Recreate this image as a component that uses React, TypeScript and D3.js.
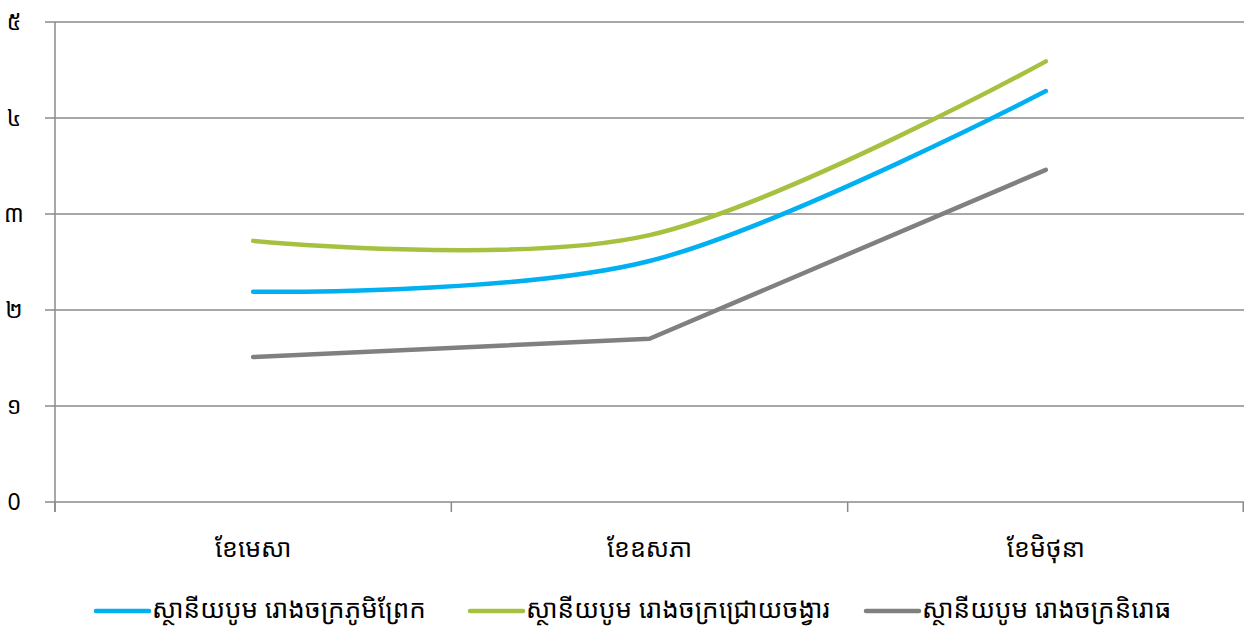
import React from "react";
import * as d3 from "d3";

const categories = ["ខែមេសា", "ខែឧសភា", "ខែមិថុនា"];
const seriesNames = [
  "ស្ថានីយបូម រោងចក្រភូមិព្រែក",
  "ស្ថានីយបូម រោងចក្រជ្រោយចង្វារ",
  "ស្ថានីយបូម រោងចក្រនិរោធ",
];
const blueValues = [2.19, 2.51, 4.28];
const greenValues = [2.72, 2.78, 4.59];
const grayValues = [1.51, 1.7, 3.46];
const yTicks = [0, 1, 2, 3, 4, 5];
const yTickLabels = ["0", "១", "២", "៣", "៤", "៥"];
const colors = ["#00B0F0", "#A6C13F", "#808080"];
const smooth = [true, true, false];

const W = 1244;
const H = 631;
const FONT = "'Noto Sans Khmer', 'Khmer OS', 'Khmer OS System', 'Noto Sans', sans-serif";

export default function App() {
  const left = 55, right = 1244, top = 22, bottom = 502;
  const x = d3.scaleBand<string>().domain(categories).range([left, right]).padding(0);
  const y = d3.scaleLinear().domain([0, 5]).range([bottom, top]);
  const series = [blueValues, greenValues, grayValues];
  const cx = (c: string) => (x(c) as number) + x.bandwidth() / 2;

  const legendX = [96, 470, 866];

  return (
    <svg width={W} height={H} style={{ position: "absolute", left: 0, top: 0, background: "#fff" }}>
      {yTicks.map((t) => (
        <line key={"g" + t} x1={45} x2={right} y1={y(t)} y2={y(t)} stroke="#8a8a8a" strokeWidth={1.5} />
      ))}
      <line x1={left} x2={left} y1={top} y2={bottom + 10} stroke="#8a8a8a" strokeWidth={1.5} />
      {[...categories.map((c) => x(c) as number), right - 0.75].map((v, i) => (
        <line key={"xt" + i} x1={v} x2={v} y1={bottom} y2={bottom + 10} stroke="#8a8a8a" strokeWidth={1.5} />
      ))}
      {yTicks.map((t, i) => (
        <text key={"yl" + t} x={14} y={y(t)} dy="0.35em" textAnchor="middle" fontSize={23} fontFamily={FONT} fill="#000">
          {yTickLabels[i]}
        </text>
      ))}
      {categories.map((c) => (
        <text key={"xl" + c} x={cx(c)} y={548} dy="0.35em" textAnchor="middle" fontSize={25} fontFamily={FONT} fill="#000">
          {c}
        </text>
      ))}
      {series.map((vals, si) => {
        const gen = d3
          .line<number>()
          .x((_, i) => cx(categories[i]))
          .y((v) => y(v))
          .curve(smooth[si] ? d3.curveCardinal.tension(0) : d3.curveLinear);
        return (
          <path key={"s" + si} d={gen(vals) || ""} fill="none" stroke={colors[si]} strokeWidth={4.5} strokeLinecap="round" strokeLinejoin="round" />
        );
      })}
      {seriesNames.map((n, i) => (
        <g key={"lg" + i}>
          <line x1={legendX[i]} x2={legendX[i] + 53} y1={611} y2={611} stroke={colors[i]} strokeWidth={4.5} strokeLinecap="round" />
          <text x={legendX[i] + 56} y={609} dy="0.35em" fontSize={26} fontFamily={FONT} fill="#000">
            {n}
          </text>
        </g>
      ))}
    </svg>
  );
}
